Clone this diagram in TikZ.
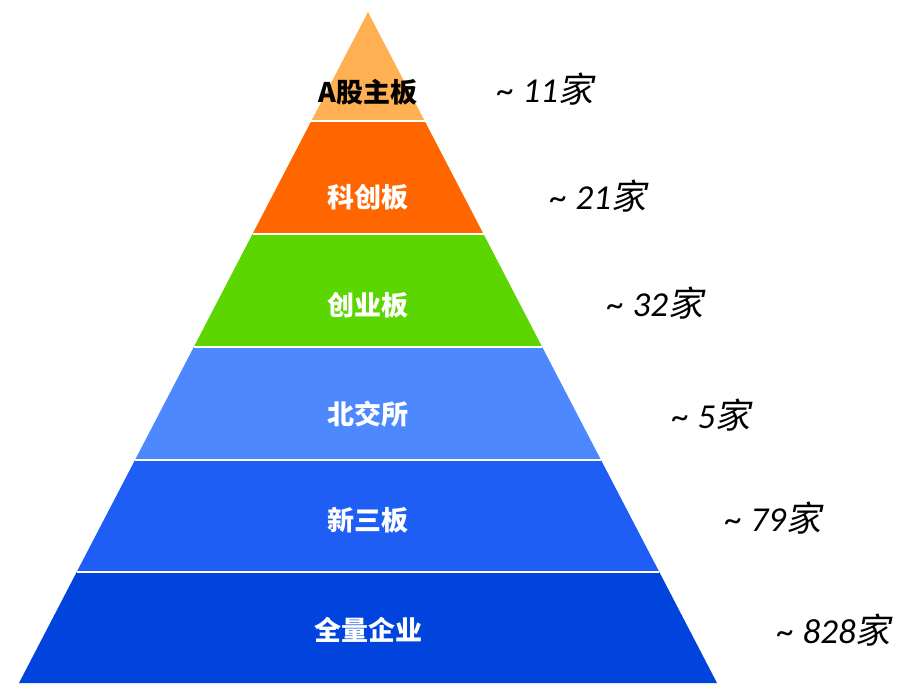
\documentclass[tikz,border=0pt]{standalone}
\usepackage{fontspec}
\setmainfont{Carlito}
\newfontfamily\cjk{Noto Sans CJK SC}
\newfontfamily\cjkslant[FakeSlant=0.2]{Noto Sans CJK SC}
\definecolor{zhuban}{HTML}{FFB052}
\definecolor{kechuang}{HTML}{FF6600}
\definecolor{chuangye}{HTML}{5CD600}
\definecolor{beijiao}{HTML}{4D88FF}
\definecolor{xinsan}{HTML}{1E5EF5}
\definecolor{quanliang}{HTML}{0044DD}

\begin{document}
\begin{tikzpicture}[
    x=1pt, y=-1pt,
    layer/.style={draw=white, line width=2.5pt},
    boardname/.style={font=\cjk\bfseries\fontsize{27}{30}\selectfont, text=white},
    headcount/.style={anchor=west, inner sep=0pt, font=\itshape\fontsize{35}{38}\selectfont}
  ]
    \useasboundingbox (0,0) rectangle (910,696);

    % pyramid layers, apex at (368,12)
    \fill[quanliang] (76.7,572) -- (659.3,572) -- (717,683) -- (19,683) -- cycle;
    \fill[xinsan]    (135,460) -- (601,460) -- (659.3,572) -- (76.7,572) -- cycle;
    \fill[beijiao]   (193.8,347) -- (542.2,347) -- (601,460) -- (135,460) -- cycle;
    \fill[chuangye]  (252.5,234) -- (483.5,234) -- (542.2,347) -- (193.8,347) -- cycle;
    \fill[kechuang]  (311.3,121) -- (424.7,121) -- (483.5,234) -- (252.5,234) -- cycle;
    \fill[zhuban]    (368,12) -- (424.7,121) -- (311.3,121) -- cycle;

    \draw[layer] (311.3,121) -- (424.7,121);
    \draw[layer] (252.5,234) -- (483.5,234);
    \draw[layer] (193.8,347) -- (542.2,347);
    \draw[layer] (135,460) -- (601,460);
    \draw[layer] (76.7,572) -- (659.3,572);

    \node[boardname, text=black] (zhubanlbl)    at (368,92)  {A股主板};
    \node[boardname]             (kechuanglbl)  at (368,197) {科创板};
    \node[boardname]             (chuangyelbl)  at (368,305) {创业板};
    \node[boardname]             (beijiaolbl)   at (368,414) {北交所};
    \node[boardname]             (xinsanlbl)    at (368,520) {新三板};
    \node[boardname]             (quanlianglbl) at (368,630) {全量企业};

    \node[headcount] (zhubannum)    at (497,89)  {\textasciitilde{} 11{\cjkslant 家}};
    \node[headcount] (kechuangnum)  at (550,196) {\textasciitilde{} 21{\cjkslant 家}};
    \node[headcount] (chuangyenum)  at (607,303) {\textasciitilde{} 32{\cjkslant 家}};
    \node[headcount] (beijiaonum)   at (672,415) {\textasciitilde{} 5{\cjkslant 家}};
    \node[headcount] (xinsannum)    at (725,518) {\textasciitilde{} 79{\cjkslant 家}};
    \node[headcount] (quanliangnum) at (777,630) {\textasciitilde{} 828{\cjkslant 家}};
\end{tikzpicture}
\end{document}
